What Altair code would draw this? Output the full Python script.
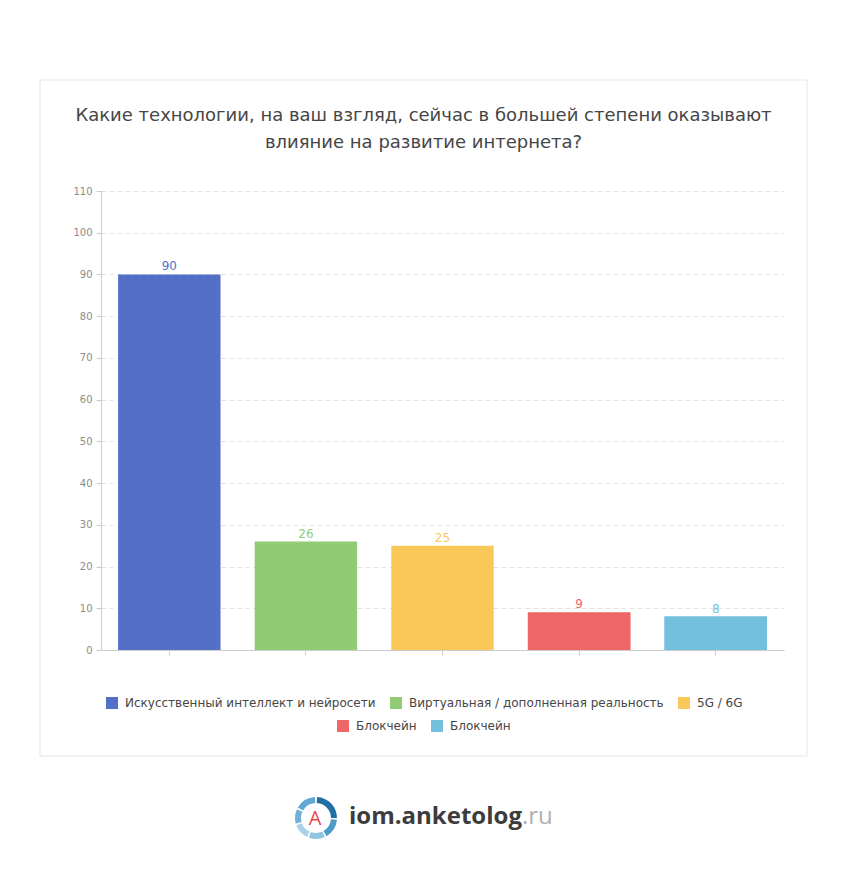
import json
import math
import altair as alt
import pandas as pd

# ---- data ----
keys = ["0", "1", "2", "3", "4"]
labels = [
    "Искусственный интеллект и нейросети",
    "Виртуальная / дополненная реальность",
    "5G / 6G",
    "Блокчейн",
    "Блокчейн",
]
values = [90, 26, 25, 9, 8]
palette = ["#5470c6", "#91cc75", "#fac858", "#ee6666", "#73c0de"]
y_ticks = [0, 10, 20, 30, 40, 50, 60, 70, 80, 90, 100, 110]
title_lines = [
    "Какие технологии, на ваш взгляд, сейчас в большей степени оказывают",
    "влияние на развитие интернета?",
]

df = pd.DataFrame({"key": keys, "label": labels, "value": values})

W, H = 683, 459
FONT = "DejaVu Sans"
label_expr = json.dumps(labels, ensure_ascii=False) + "[toNumber(datum.value)]"

x_enc = alt.X(
    "key:N",
    sort=keys,
    scale=alt.Scale(domain=keys, paddingInner=0.25, paddingOuter=0.125),
    axis=alt.Axis(
        title=None, labels=False, ticks=True, tickSize=5, tickColor="#cccccc",
        domainColor="#cccccc", grid=False,
    ),
)
y_enc = alt.Y(
    "value:Q",
    scale=alt.Scale(domain=[0, 110], nice=False),
    axis=alt.Axis(
        title=None, values=y_ticks, grid=True, gridDash=[4, 4], gridColor="#e0e0e0",
        domainColor="#cccccc", tickColor="#cccccc", tickSize=5, labelPadding=4,
        labelColor="#8c8c8c", labelFont="DejaVu Sans", labelFontSize=10,
    ),
)

legend_common = dict(
    title=None, orient="none", direction="horizontal", symbolType="square",
    symbolSize=144, symbolStrokeWidth=0, labelFont=FONT, labelFontSize=12,
    labelColor="#464646", labelOffset=7, columnPadding=14, padding=0,
    labelExpr=label_expr, labelLimit=400,
)

color_enc = alt.Color(
    "key:N",
    scale=alt.Scale(domain=keys, range=palette),
    legend=alt.Legend(values=keys[:3], columns=3, legendX=5, legendY=506, **legend_common),
)

bars_a = alt.Chart(df).mark_bar().encode(x=x_enc, y=y_enc, color=color_enc)
bars_b = alt.Chart(df).transform_filter(
    alt.FieldOneOfPredicate(field="key", oneOf=keys[3:])
).mark_bar().encode(
    x=x_enc,
    y=y_enc,
    fill=alt.Fill(
        "key:N",
        scale=alt.Scale(domain=keys[3:], range=palette[3:]),
        legend=alt.Legend(columns=2, legendX=236, legendY=529, **legend_common),
    ),
)
text_labels = alt.Chart(df).mark_text(
    baseline="alphabetic", dy=-4, font=FONT, fontSize=12
).encode(x=x_enc, y=y_enc, text="value:Q", color=color_enc)

one = alt.Data(values=[{"a": 1}])

card = alt.Chart(one).mark_rect(fillOpacity=0, stroke="#e6e6e6", strokeWidth=1).encode(
    x=alt.value(-61), x2=alt.value(706), y=alt.value(-111), y2=alt.value(565)
)

title1 = alt.Chart(one).mark_text(
    font=FONT, fontSize=18, color="#464646", align="center", baseline="middle"
).encode(x=alt.value(322.5), y=alt.value(-75), text=alt.value(title_lines[0]))
title2 = alt.Chart(one).mark_text(
    font=FONT, fontSize=18, color="#464646", align="center", baseline="middle"
).encode(x=alt.value(322.5), y=alt.value(-48), text=alt.value(title_lines[1]))

# logo
cx, cy = 215, 627
segs = [
    (300, 357, "#5fa8d3"),
    (3, 90, "#1f6fa3"),
    (95, 150, "#4d9cc8"),
    (155, 200, "#8fc5e0"),
    (205, 250, "#a8d3ea"),
    (255, 295, "#6fb2d8"),
]
logo_layers = []
for a1, a2, col in segs:
    logo_layers.append(
        alt.Chart(one).mark_arc(
            radius=21, radius2=15, theta=math.radians(a1), theta2=math.radians(a2), color=col
        ).encode(x=alt.value(cx), y=alt.value(cy))
    )
logo_a = alt.Chart(one).mark_text(
    font="Open Sans", fontSize=20, color="#e8474a", align="center", baseline="middle"
).encode(x=alt.value(cx - 1), y=alt.value(cy + 1), text=alt.value("A"))
logo_t1 = alt.Chart(one).mark_text(
    font="Open Sans", fontSize=24, fontWeight="bold", color="#3c3c3c", align="left", baseline="middle"
).encode(x=alt.value(248), y=alt.value(626), text=alt.value("iom.anketolog"))
logo_t2 = alt.Chart(one).mark_text(
    font="Open Sans", fontSize=24, color="#b0b0b0", align="left", baseline="middle"
).encode(x=alt.value(421), y=alt.value(626), text=alt.value(".ru"))

chart = alt.layer(
    card, bars_a, bars_b, text_labels, title1, title2, *logo_layers, logo_a, logo_t1, logo_t2
).properties(
    width=W, height=H,
    autosize=alt.AutoSizeParams(type="none"),
    padding={"left": 101, "top": 191, "right": 64, "bottom": 229},
    background="white",
).configure_view(stroke=None)

chart.save("out.html", embed_options={"renderer": "svg", "actions": False})
